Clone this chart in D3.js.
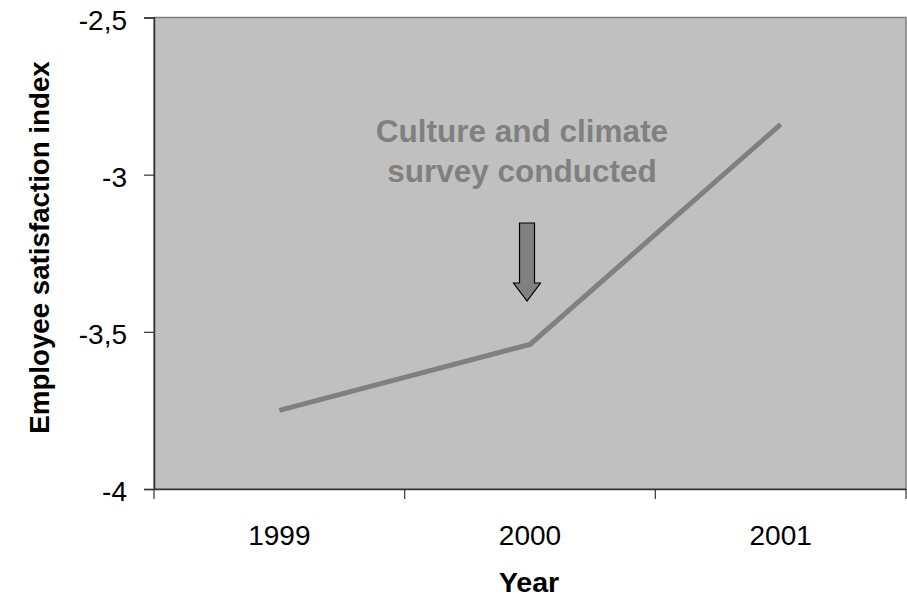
<!DOCTYPE html>
<html><head><meta charset="utf-8">
<script src="https://cdn.jsdelivr.net/npm/d3@7"></script>
<style>body{margin:0;background:#fff}svg{display:block}</style>
</head><body>
<script>
const years = ["1999","2000","2001"];
const values = [-3.75, -3.54, -2.84];
const yTicks = [-4, -3.5, -3, -2.5];
const yTickLabels = ["-4","-3,5","-3","-2,5"];
const annotationLines = ["Culture and climate","survey conducted"];
const xTitle = "Year";
const yTitle = "Employee satisfaction index";

const W=907,H=598;
const m={l:154,t:17.5,r:1,b:109};
const svg=d3.select("body").append("svg").attr("width",W).attr("height",H);
const iw=W-m.l-m.r, ih=H-m.t-m.b;
const x=d3.scaleBand().domain(years).range([m.l,m.l+iw]).padding(0);
const y=d3.scaleLinear().domain([-4,-2.5]).range([m.t+ih,m.t]);
const font="Liberation Sans, Arial, sans-serif";

svg.append("rect").attr("x",m.l).attr("y",m.t).attr("width",iw).attr("height",ih)
  .attr("fill","#c0c0c0").attr("stroke","#808080").attr("stroke-width",1.5);

// y axis
const ya=svg.append("g").attr("transform",`translate(${m.l},0)`)
  .call(d3.axisLeft(y).tickValues(yTicks).tickSize(10).tickPadding(17).tickFormat((d,i)=>yTickLabels[i]));
ya.select(".domain").attr("stroke","#333").attr("stroke-width",1.5);
ya.selectAll(".tick line").attr("stroke","#333").attr("stroke-width",1.2);
ya.selectAll("text").attr("font-family",font).attr("font-size",28).attr("fill","#000").attr("dy","0.42em");

// x axis
const xa=svg.append("g").attr("transform",`translate(0,${m.t+ih})`)
  .call(d3.axisBottom(x).tickSize(0).tickPadding(36));
xa.select(".domain").attr("stroke","#333").attr("stroke-width",1.5);
xa.selectAll("text").attr("font-family",font).attr("font-size",28).attr("fill","#000");
// boundary ticks between categories
const bounds=years.map(d=>x(d)).concat([x(years[years.length-1])+x.bandwidth()]);
svg.append("g").selectAll("line").data(bounds).join("line")
  .attr("x1",d=>d).attr("x2",d=>d).attr("y1",m.t+ih).attr("y2",m.t+ih+10)
  .attr("stroke","#333").attr("stroke-width",1.2);

// line
const line=d3.line().x((d,i)=>x(years[i])+x.bandwidth()/2).y(d=>y(d));
svg.append("path").datum(values).attr("d",line).attr("fill","none")
  .attr("stroke","#808080").attr("stroke-width",5);

// annotation
const ax=x("2000")+x.bandwidth()/2-8;
svg.append("text").attr("x",ax).attr("y",142).attr("text-anchor","middle")
  .attr("font-family",font).attr("font-weight","bold").attr("font-size",31.5).attr("fill","#808080")
  .selectAll("tspan").data(annotationLines).join("tspan")
  .attr("x",ax).attr("dy",(d,i)=>i?40:0).text(d=>d);

// arrow
const cx=x("2000")+x.bandwidth()/2-3;
const arrow=[[cx-7.5,223],[cx+7.5,223],[cx+7.5,283],[cx+13.5,283],[cx,301],[cx-13.5,283],[cx-7.5,283]];
svg.append("path").attr("d","M"+arrow.map(p=>p.join(",")).join("L")+"Z")
  .attr("fill","#808080").attr("stroke","#000").attr("stroke-width",1.2);

// titles
svg.append("text").attr("x",529).attr("y",592).attr("text-anchor","middle")
  .attr("font-family",font).attr("font-weight","bold").attr("font-size",28.5).text(xTitle);
svg.append("text").attr("transform",`translate(49,247.5) rotate(-90)`).attr("text-anchor","middle")
  .attr("font-family",font).attr("font-weight","bold").attr("font-size",27.7).text(yTitle);
</script>
</body></html>
